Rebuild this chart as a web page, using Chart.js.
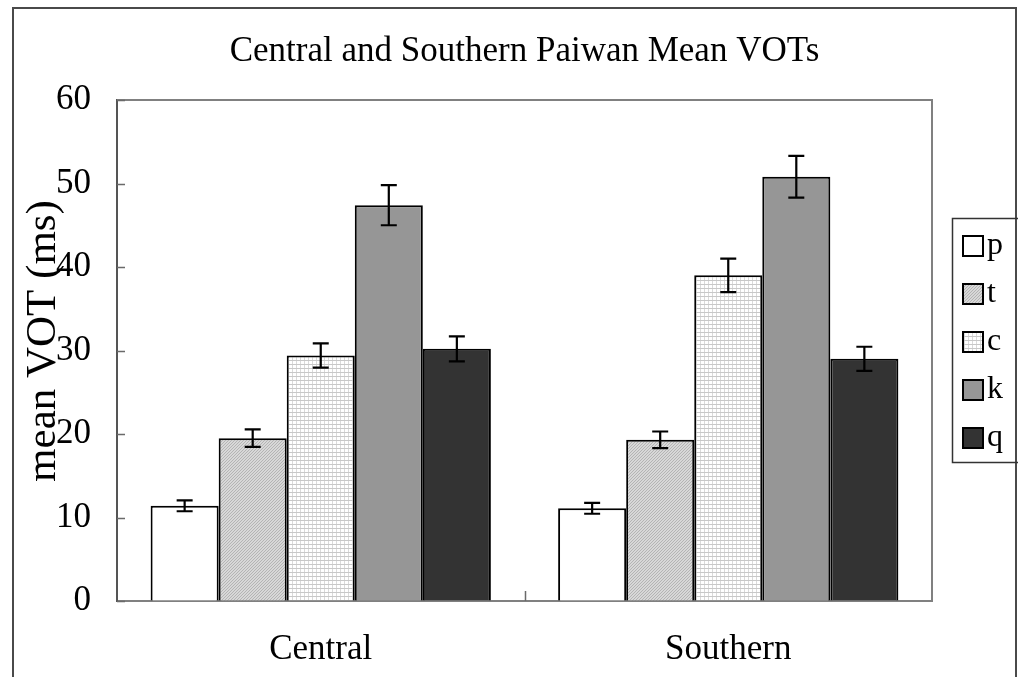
<!DOCTYPE html>
<html>
<head>
<meta charset="utf-8">
<script src="https://cdn.jsdelivr.net/npm/chart.js@4.4.1/dist/chart.umd.min.js"></script>
<style>
  html, body { margin: 0; padding: 0; background: #fff; }
  #wrap { width: 1018px; height: 677px; position: relative; }
</style>
</head>
<body>
<div id="wrap"><canvas id="c" width="1018" height="677"></canvas></div>
<script>
// Mean voice onset times (ms) by dialect and stop consonant
const categories = ['Central', 'Southern'];
const seriesNames = ['p', 't', 'c', 'k', 'q'];
const pValues = [11.4, 11.1];
const tValues = [19.5, 19.3];
const cValues = [29.4, 39.0];
const kValues = [47.4, 50.8];
const qValues = [30.2, 29.0];
// Error bar half-lengths (ms)
const pErrors = [0.65, 0.65];
const tErrors = [1.05, 1.0];
const cErrors = [1.45, 2.0];
const kErrors = [2.4, 2.5];
const qErrors = [1.5, 1.45];
const yTicks = [0, 10, 20, 30, 40, 50, 60];

const titleText = 'Central and Southern Paiwan Mean VOTs';
const yTitleText = 'mean VOT (ms)';
const FONT = '"Liberation Serif", "DejaVu Serif", serif';

function makePattern(kind) {
  const t = document.createElement('canvas');
  const g = t.getContext('2d');
  if (kind === 'diag') {
    t.width = 3; t.height = 3;
    g.fillStyle = '#d8d8d8';
    g.fillRect(0, 0, 3, 3);
    g.fillStyle = '#b4b4b4';
    for (let i = 0; i < 3; i++) g.fillRect(i, 2 - i, 1, 1);
  } else if (kind === 'grid') {
    t.width = 4; t.height = 4;
    g.fillStyle = '#ffffff';
    g.fillRect(0, 0, 4, 4);
    g.fillStyle = '#c8c8c8';
    g.fillRect(0, 0, 4, 1);
    g.fillStyle = '#dadada';
    g.fillRect(0, 1, 1, 3);
  }
  return document.getElementById('c').getContext('2d').createPattern(t, 'repeat');
}

const fills = ['#ffffff', makePattern('diag'), makePattern('grid'), '#969696', '#333333'];
const valueSets = [pValues, tValues, cValues, kValues, qValues];
const errorSets = [pErrors, tErrors, cErrors, kErrors, qErrors];

const datasets = seriesNames.map((name, i) => ({
  label: name,
  data: valueSets[i],
  errors: errorSets[i],
  backgroundColor: fills[i],
  borderColor: '#000',
  borderWidth: 2,
  borderSkipped: 'bottom',
  categoryPercentage: 0.835,
  barPercentage: 1.0
}));

const decorations = {
  id: 'decorations',
  beforeDraw(chart) {
    const ctx = chart.ctx;
    ctx.save();
    ctx.fillStyle = '#fff';
    ctx.fillRect(0, 0, chart.width, chart.height);
    // outer frame
    ctx.strokeStyle = '#4a4a4a';
    ctx.lineWidth = 2;
    ctx.beginPath();
    ctx.moveTo(13, chart.height + 2);
    ctx.lineTo(13, 8);
    ctx.lineTo(1016, 8);
    ctx.lineTo(1016, chart.height + 2);
    ctx.stroke();
    ctx.restore();
  },
  beforeDatasetsDraw(chart) {
    const ctx = chart.ctx;
    const a = chart.chartArea;
    ctx.save();
    ctx.strokeStyle = '#808080';
    ctx.lineWidth = 2;
    ctx.beginPath();
    ctx.moveTo(a.left, a.top);
    ctx.lineTo(a.right, a.top);
    ctx.lineTo(a.right, a.bottom);
    ctx.stroke();
    ctx.restore();
  },
  afterDatasetsDraw(chart) {
    const ctx = chart.ctx;
    const y = chart.scales.y;
    ctx.save();
    ctx.strokeStyle = '#000';
    ctx.lineWidth = 2.2;
    chart.data.datasets.forEach((ds, di) => {
      const meta = chart.getDatasetMeta(di);
      meta.data.forEach((bar, j) => {
        const v = ds.data[j], e = ds.errors[j];
        const yt = y.getPixelForValue(v + e);
        const yb = y.getPixelForValue(v - e);
        ctx.beginPath();
        ctx.moveTo(bar.x, yt); ctx.lineTo(bar.x, yb);
        ctx.moveTo(bar.x - 8, yt); ctx.lineTo(bar.x + 8, yt);
        ctx.moveTo(bar.x - 8, yb); ctx.lineTo(bar.x + 8, yb);
        ctx.stroke();
      });
    });
    ctx.restore();
  },
  afterDraw(chart) {
    const ctx = chart.ctx;
    const a = chart.chartArea;
    const x = chart.scales.x, y = chart.scales.y;
    ctx.save();
    // inward ticks
    ctx.strokeStyle = '#6a6a6a';
    ctx.lineWidth = 1.5;
    ctx.beginPath();
    y.ticks.forEach(t => {
      const py = Math.round(y.getPixelForValue(t.value)) + 0.5;
      ctx.moveTo(a.left, py); ctx.lineTo(a.left + 8, py);
    });
    for (let k = 0; k < categories.length - 1; k++) {
      const px = Math.round(x.getPixelForValue(k + 0.5)) + 0.5;
      ctx.moveTo(px, a.bottom); ctx.lineTo(px, a.bottom - 10);
    }
    ctx.stroke();

    // title
    ctx.fillStyle = '#000';
    ctx.textAlign = 'center';
    ctx.textBaseline = 'middle';
    ctx.font = '35px ' + FONT;
    ctx.fillText(titleText, (a.left + a.right) / 2, 52);

    // y axis title
    ctx.save();
    ctx.translate(44, 341);
    ctx.rotate(-Math.PI / 2);
    ctx.font = '43px ' + FONT;
    ctx.fillText(yTitleText, 0, 0);
    ctx.restore();

    // legend
    const lx = 952, ly = 218, lh = 244;
    ctx.strokeStyle = '#333';
    ctx.lineWidth = 1.5;
    ctx.strokeRect(lx + 0.5, ly + 0.5, 80, lh);
    ctx.font = '32px ' + FONT;
    ctx.textAlign = 'left';
    chart.data.datasets.forEach((ds, i) => {
      const cy = 246 + i * 48;
      ctx.fillStyle = ds.backgroundColor;
      ctx.fillRect(963, cy - 10, 20, 20);
      ctx.strokeStyle = '#000';
      ctx.lineWidth = 2;
      ctx.strokeRect(963, cy - 10, 20, 20);
      ctx.fillStyle = '#000';
      ctx.fillText(ds.label, 987, cy);
    });
    ctx.restore();
  }
};

new Chart(document.getElementById('c'), {
  type: 'bar',
  data: { labels: categories, datasets },
  options: {
    responsive: false,
    animation: false,
    layout: { padding: { left: 0, right: 86, top: 100, bottom: 0 } },
    plugins: {
      legend: { display: false },
      title: { display: false },
      tooltip: { enabled: false }
    },
    scales: {
      x: {
        grid: { drawOnChartArea: false, drawTicks: false },
        border: { color: '#808080', width: 2 },
        ticks: { color: '#000', font: { family: FONT, size: 35 }, padding: 28 },
        afterFit(s) { s.height = 76; }
      },
      y: {
        min: 0, max: 60,
        afterBuildTicks(s) { s.ticks = yTicks.map(v => ({ value: v })); },
        grid: { drawOnChartArea: false, drawTicks: false },
        border: { color: '#555', width: 2 },
        ticks: { color: '#000', font: { family: FONT, size: 35 }, padding: 26 },
        afterFit(s) { s.width = 117; }
      }
    }
  },
  plugins: [decorations]
});
</script>
</body>
</html>
